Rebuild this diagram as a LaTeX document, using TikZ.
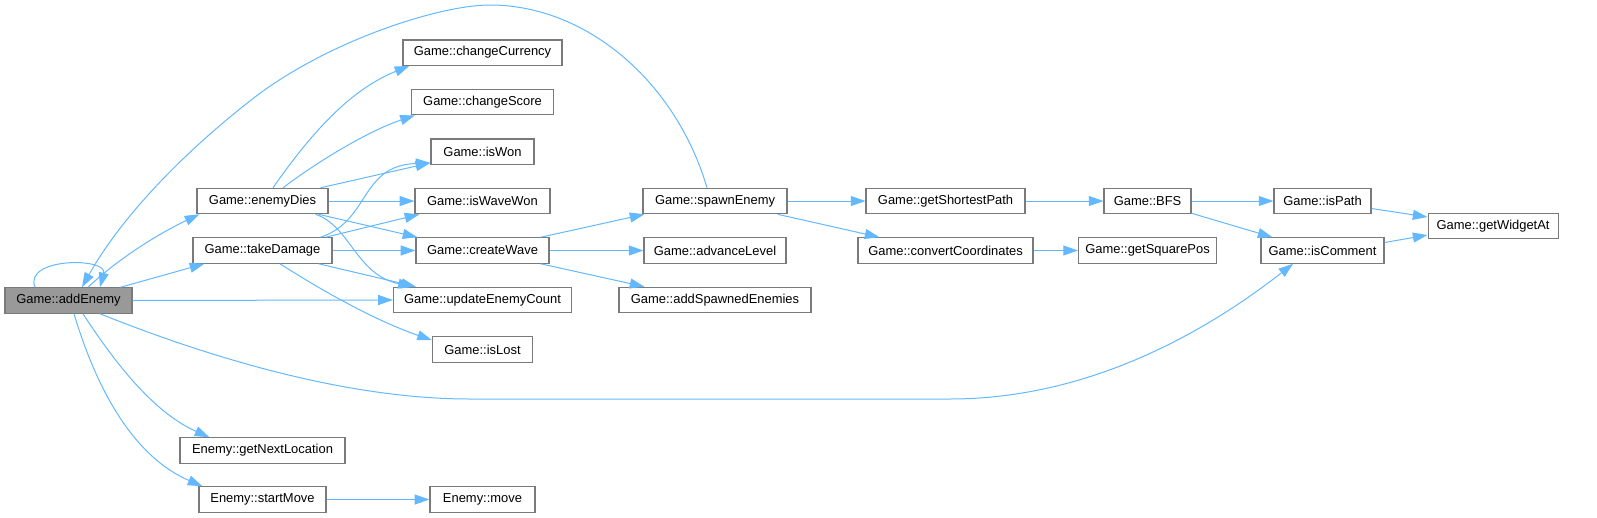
\documentclass[tikz,border=0pt]{standalone}
\usepackage{fontspec}
\setmainfont{Liberation Sans}
\usetikzlibrary{arrows.meta,positioning,calc}
\definecolor{EdgeBlue}{HTML}{63B8FF}
\definecolor{BoxGray}{HTML}{7A7A7A}
\definecolor{SelGray}{HTML}{999999}
\tikzset{
  FN/.style={rectangle,minimum height=19pt,inner xsep=2pt,inner ysep=0pt,
             draw=BoxGray,line width=0.9pt,text=black,
             font=\fontsize{9.7}{11}\selectfont},
  nW/.style={FN,fill=white},
  nS/.style={FN,fill=SelGray},
  arr/.style={-{Triangle[length=11pt,width=7.5pt]},draw=EdgeBlue,line width=0.75pt}
}
\begin{document}
\begin{tikzpicture}[x=0.75pt,y=-0.75pt,node distance=37.1pt,on grid]
  \useasboundingbox (0,0) rectangle (1597,518);
  \node[nS,minimum width=95.25pt] (addEnemy) at (68.5,300.5) {Game::addEnemy};
  \node[nW,minimum width=104.25pt,above right=37.5pt and 145.5pt of addEnemy] (takeDamage) {Game::takeDamage};
  \node[nW,minimum width=98.25pt,above=of takeDamage] (enemyDies) {Game::enemyDies};
  \node[nW,minimum width=123.75pt,below right=112.5pt and 145.5pt of addEnemy] (getNextLocation) {Enemy::getNextLocation};
  \node[nW,minimum width=95.25pt,below=36.75pt of getNextLocation] (startMove) {Enemy::startMove};
  \node[nW,minimum width=99.75pt,right=165pt of takeDamage] (createWave) {Game::createWave};
  \node[nW,minimum width=101.25pt,above=of createWave] (isWaveWon) {Game::isWaveWon};
  \node[nW,minimum width=77.25pt,above=of isWaveWon] (isWon) {Game::isWon};
  \node[nW,minimum width=106.5pt,above=of isWon] (changeScore) {Game::changeScore};
  \node[nW,minimum width=119.25pt,above=of changeScore] (changeCurrency) {Game::changeCurrency};
  \node[nW,minimum width=133.5pt,below=of createWave] (updateEnemyCount) {Game::updateEnemyCount};
  \node[nW,minimum width=75pt,below=of updateEnemyCount] (isLost) {Game::isLost};
  \node[nW,minimum width=78.75pt,right=165pt of startMove] (move) {Enemy::move};
  \node[nW,minimum width=106.5pt,right=174.4pt of createWave] (advanceLevel) {Game::advanceLevel};
  \node[nW,minimum width=108pt,above=of advanceLevel] (spawnEnemy) {Game::spawnEnemy};
  \node[nW,minimum width=144pt,below=of advanceLevel] (addSpawnedEnemies) {Game::addSpawnedEnemies};
  \node[nW,minimum width=119.25pt,right=172.9pt of spawnEnemy] (getShortestPath) {Game::getShortestPath};
  \node[nW,minimum width=131.25pt,below=of getShortestPath] (convertCoordinates) {Game::convertCoordinates};
  \node[nW,minimum width=65.25pt,right=151.5pt of getShortestPath] (BFS) {Game::BFS};
  \node[nW,minimum width=103.5pt,below=of BFS] (getSquarePos) {Game::getSquarePos};
  \node[nW,minimum width=72.75pt,right=131.25pt of BFS] (isPath) {Game::isPath};
  \node[nW,minimum width=92.25pt,below=of isPath] (isComment) {Game::isComment};
  \node[nW,minimum width=97.5pt,below right=18.75pt and 127.9pt of isPath] (getWidgetAt) {Game::getWidgetAt};

  \draw[arr] ($(addEnemy.north)+(-33.5,0)$) .. controls +(-12,-30) and +(8,-30) .. ($(addEnemy.north)+(31.5,0)$);
  \draw[arr] ($(spawnEnemy.north)+(-8,0)$) .. controls +(-32,-108) and +(95,0) .. (490,5)
             .. controls +(-50,0) and +(75,-57) .. (255,97)
             .. controls +(-75,58) and +(38,-68) .. ($(addEnemy.north)+(13.5,0)$);
  \draw[arr] ($(addEnemy.north)+(19.5,0)$) .. controls +(32,-30) and +(-40,19) .. ($(enemyDies.south west)+(3,0)$);
  \draw[arr] ($(addEnemy.north east)+(-12,0)$) -- ($(takeDamage.south west)+(12,0)$);
  \draw[arr] (addEnemy.east) -- (updateEnemyCount.west);
  \draw[arr] ($(addEnemy.south)+(31.5,0)$) .. controls +(80,32) and +(-140,0) .. (470,399) -- (950,399)
             .. controls +(150,0) and +(-73,57) .. ($(isComment.south)+(-29.5,0)$);
  \draw[arr] ($(addEnemy.south)+(14.5,0)$) .. controls +(37,57) and +(-52,-23) .. ($(getNextLocation.north west)+(30,0)$);
  \draw[arr] ($(addEnemy.south)+(5.5,0)$) .. controls +(26,87) and +(-63,-27) .. ($(startMove.north west)+(4,0)$);
  \draw[arr] (startMove) -- (move);

  \draw[arr] ($(enemyDies.north)+(10.5,0)$) .. controls +(37,-53) and +(-60,24) .. ($(changeCurrency.south west)+(7,0)$);
  \draw[arr] ($(enemyDies.north)+(20.5,0)$) .. controls +(37,-28) and +(-45,15) .. ($(changeScore.south west)+(4,0)$);
  \draw[arr] ($(enemyDies.north east)+(-8,0)$) -- ($(isWon.south west)+(0,-2)$);
  \draw[arr] (enemyDies) -- (isWaveWon);
  \draw[arr] ($(enemyDies.south east)+(-10,0)$) -- ($(createWave.north west)+(2,0)$);
  \draw[arr] ($(enemyDies.south east)+(-13,0)$) .. controls +(35,12) and +(-57,-12) .. ($(updateEnemyCount.north west)+(20,0)$);

  \draw[arr] ($(takeDamage.north east)+(-12,0)$) .. controls +(50,-17) and +(-71,3) .. ($(isWon.south west)+(0,-2)$);
  \draw[arr] ($(takeDamage.north east)+(-7,0)$) -- ($(isWaveWon.south west)+(5,0)$);
  \draw[arr] (takeDamage) -- (createWave);
  \draw[arr] ($(takeDamage.south east)+(-14,0)$) -- ($(updateEnemyCount.north west)+(23,0)$);
  \draw[arr] ($(takeDamage.south)+(17.5,0)$) .. controls +(50,32) and +(-52,-18) .. ($(isLost.north west)+(0,4)$);

  \draw[arr] ($(createWave.north east)+(-9,0)$) -- ($(spawnEnemy.south west)+(2,0)$);
  \draw[arr] (createWave) -- (advanceLevel);
  \draw[arr] ($(createWave.south east)+(-9,0)$) -- ($(addSpawnedEnemies.north west)+(26,0)$);
  \draw[arr] (spawnEnemy) -- (getShortestPath);
  \draw[arr] ($(spawnEnemy.south east)+(-10,0)$) -- ($(convertCoordinates.north west)+(22,0)$);
  \draw[arr] (getShortestPath) -- (BFS);
  \draw[arr] (convertCoordinates) -- (getSquarePos);
  \draw[arr] (BFS) -- (isPath);
  \draw[arr] ($(BFS.south east)+(0,-1)$) -- ($(isComment.north west)+(12,0)$);
  \draw[arr] ($(isPath.east)+(0,7.5)$) -- ($(getWidgetAt.west)+(0,-9)$);
  \draw[arr] ($(isComment.east)+(0,-8)$) -- ($(getWidgetAt.west)+(0,9)$);
\end{tikzpicture}
\end{document}
